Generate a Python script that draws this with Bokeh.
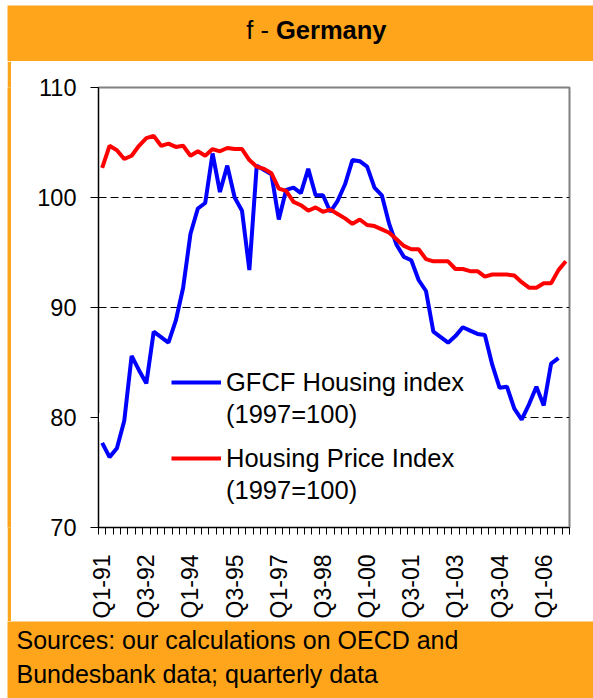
import numpy as np
from bokeh.plotting import figure
from bokeh.layouts import column, row
from bokeh.models import (Range1d, FixedTicker, Legend, LegendItem, BoxAnnotation,
                          Label, ColumnDataSource)
from bokeh.embed import file_html
from bokeh.resources import INLINE

# ---------------- data ----------------
quarters = [f"Q{q}-{y % 100:02d}" for y in range(1991, 2007) for q in range(1, 5)]

gfcf_housing = [77.7, 76.4, 77.2, 79.7, 85.6, 84.3, 83.1, 87.8, 87.3, 86.8,
                88.8, 91.8, 96.7, 99.0, 99.5, 104.0, 100.5, 102.9, 100.0, 98.8,
                93.4, 102.9, 102.5, 102.1, 98.0, 100.7, 100.9, 100.4, 102.6, 100.2,
                100.2, 98.7, 99.7, 101.2, 103.4, 103.3, 102.8, 100.9, 100.2, 97.6,
                95.7, 94.6, 94.3, 92.5, 91.5, 87.8, 87.3, 86.8, 87.4, 88.2,
                87.9, 87.6, 87.5, 84.8, 82.7, 82.8, 80.8, 79.8, 81.2, 82.8,
                81.1, 84.9, 85.4, None]

house_price = [102.7, 104.7, 104.3, 103.5, 103.8, 104.7, 105.4, 105.6, 104.7, 104.9,
               104.6, 104.7, 103.8, 104.2, 103.8, 104.4, 104.2, 104.5, 104.4, 104.4,
               103.4, 102.8, 102.6, 102.2, 100.8, 100.6, 99.6, 99.3, 98.8, 99.1,
               98.7, 98.9, 98.5, 98.1, 97.6, 98.0, 97.5, 97.4, 97.1, 96.8,
               96.2, 95.6, 95.3, 95.3, 94.4, 94.2, 94.2, 94.2, 93.5, 93.5,
               93.3, 93.3, 92.8, 93.0, 93.0, 93.0, 92.9, 92.3, 91.8, 91.8,
               92.2, 92.2, 93.4, 94.2]

tick_labels = ["Q1-91", "Q3-92", "Q1-94", "Q3-95", "Q1-97", "Q3-98",
               "Q1-00", "Q3-01", "Q1-03", "Q3-04", "Q1-06"]
y_ticks = [70, 80, 90, 100, 110]
grid_values = [80, 90, 100]

title_plain = "f -"
title_bold = "Germany"
legend_labels = ["GFCF Housing index", "Housing Price Index", "(1997=100)"]
source_lines = ["Sources: our calculations on OECD and",
                "Bundesbank data; quarterly data"]

# ---------------- styles ----------------
ORANGE = "#FFA51C"
FONT = "Liberation Sans"
BLUE = "#0000FF"
RED = "#FF0000"
W = 593


def blank(width, height):
    f = figure(width=width, height=height, output_backend="svg", toolbar_location=None,
               x_range=Range1d(0, 1), y_range=Range1d(0, 1), x_axis_type=None,
               y_axis_type=None, min_border=0, background_fill_color="white",
               border_fill_color="white", outline_line_color=None)
    f.grid.visible = False
    return f


def orange_box(l, r, b, t):
    return BoxAnnotation(left=l, right=r, bottom=b, top=t,
                         left_units="screen", right_units="screen",
                         bottom_units="screen", top_units="screen",
                         fill_color=ORANGE, fill_alpha=1, line_color=None,
                         level="underlay")


# ---------------- top band (title) ----------------
top = blank(W, 61)
top.add_layout(orange_box(7, W + 10, -5, 56))
top.add_layout(Label(x=268.4, y=32, x_units="screen", y_units="screen", text=title_plain,
                     text_font=FONT, text_font_size="25.5px", text_align="right",
                     text_baseline="alphabetic", text_color="black"))
top.add_layout(Label(x=275.5, y=32, x_units="screen", y_units="screen", text=title_bold,
                     text_font=FONT, text_font_size="25.5px", text_font_style="bold",
                     text_align="left", text_baseline="alphabetic", text_color="black"))

# ---------------- left strip ----------------
strip = figure(width=4, height=560, output_backend="svg", toolbar_location=None,
               x_range=Range1d(0, 1), y_range=Range1d(0, 1), x_axis_type=None,
               y_axis_type=None, min_border=0, background_fill_color=ORANGE,
               border_fill_color=ORANGE, outline_line_color=None, margin=(0, 0, 0, 7))
strip.grid.visible = False

# ---------------- main chart ----------------
x = np.arange(len(quarters)) + 0.5
gfcf_arr = np.array([np.nan if v is None else v for v in gfcf_housing], dtype=float)
src = ColumnDataSource(dict(x=x, gfcf=gfcf_arr, hpi=np.array(house_price, dtype=float)))

p = figure(width=W - 11, height=560, output_backend="svg", toolbar_location=None,
           x_range=Range1d(0, len(quarters)), y_range=Range1d(70, 110),
           min_border_left=87, min_border_right=24, min_border_top=26,
           min_border_bottom=94,
           background_fill_color="white", border_fill_color="white")

# y axis
p.yaxis.ticker = FixedTicker(ticks=y_ticks)
p.yaxis.major_label_text_font = FONT
p.yaxis.major_label_text_font_size = "23.5px"
p.yaxis.major_label_text_color = "black"
p.yaxis.major_tick_out = 8
p.yaxis.major_tick_in = 0
p.yaxis.minor_tick_out = 0
p.yaxis.minor_tick_in = 0
p.yaxis.major_label_standoff = 14
p.yaxis.axis_line_color = "black"
p.yaxis.major_tick_line_color = "black"

# x axis
label_pos = [float(x[quarters.index(t)]) for t in tick_labels]
p.xaxis.ticker = FixedTicker(ticks=label_pos,
                             minor_ticks=[float(v) for v in range(len(quarters) + 1)])
p.xaxis.major_label_overrides = {pos: t for pos, t in zip(label_pos, tick_labels)}
p.xaxis.major_label_orientation = np.pi / 2
p.xaxis.major_label_text_font = FONT
p.xaxis.major_label_text_font_size = "23px"
p.xaxis.major_label_text_color = "black"
p.xaxis.major_tick_out = 0
p.xaxis.major_tick_in = 0
p.xaxis.minor_tick_out = 7
p.xaxis.minor_tick_in = 0
p.xaxis.minor_tick_line_color = "black"
p.xaxis.major_label_standoff = 20
p.xaxis.axis_line_color = "black"

# grid
p.xgrid.visible = False
p.ygrid.ticker = FixedTicker(ticks=grid_values)
p.ygrid.grid_line_color = "black"
p.ygrid.grid_line_dash = "8 4"
p.ygrid.grid_line_width = 1
p.ygrid.level = "image"

p.outline_line_color = "#808080"
p.outline_line_width = 2

# white cover hiding the gridline behind the legend
p.add_layout(BoxAnnotation(left=-2, left_units="screen", right=426, right_units="screen",
                           bottom=79.6, top=80.4, fill_color="white", fill_alpha=1,
                           line_color=None, level="underlay"))

# series
r_blue = p.line("x", "gfcf", source=src, line_color=BLUE, line_width=4)
r_red = p.line("x", "hpi", source=src, line_color=RED, line_width=4)
dummy = p.line(x=[], y=[], line_alpha=0)

common = dict(orientation="vertical", padding=0, margin=0, spacing=0,
              glyph_width=50, glyph_height=32, label_height=32, label_standoff=5,
              label_text_font=FONT, label_text_font_size="25.5px",
              label_text_color="black",
              background_fill_alpha=0, border_line_alpha=0, level="underlay")
leg1 = Legend(items=[LegendItem(label=legend_labels[0], renderers=[r_blue]),
                     LegendItem(label=legend_labels[2], renderers=[dummy])],
              location=(73, 97), **common)
leg2 = Legend(items=[LegendItem(label=legend_labels[1], renderers=[r_red]),
                     LegendItem(label=legend_labels[2], renderers=[dummy])],
              location=(73, 21), **common)
p.add_layout(leg1)
p.add_layout(leg2)

# ---------------- bottom band (sources) ----------------
bottom = blank(W, 77)
bottom.add_layout(orange_box(7, W + 10, -10, 90))
for yy, line in zip([58.2, 24.8], source_lines):
    bottom.add_layout(Label(x=16, y=yy, x_units="screen", y_units="screen", text=line,
                            text_font=FONT, text_font_size="25px", text_align="left",
                            text_baseline="alphabetic", text_color="black"))

layout = column(top, row(strip, p, spacing=0), bottom, spacing=0)

open("out.html", "w").write(file_html(layout, INLINE))
